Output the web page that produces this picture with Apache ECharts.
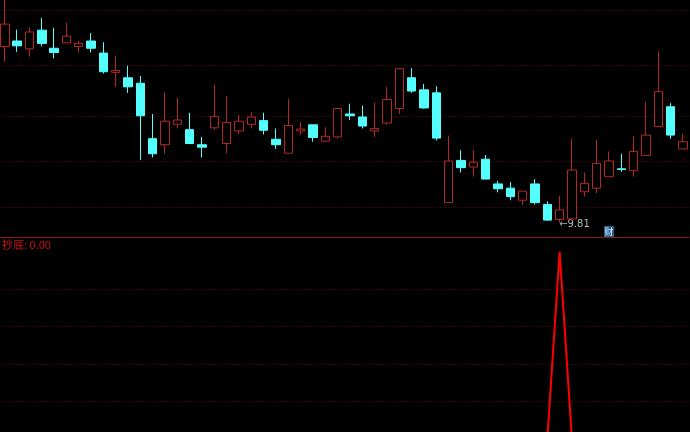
<!DOCTYPE html>
<html><head><meta charset="utf-8">
<script src="https://cdn.jsdelivr.net/npm/echarts@6/dist/echarts.min.js"></script>
<style>html,body{margin:0;padding:0;background:#000;overflow:hidden}#c{width:690px;height:432px}</style>
</head><body><div id="c"></div>
<script>
// ---- data ----
const categories = Array.from({length:56},(_,i)=>'K'+(i+1));
const opens  = [12.73,12.82,12.69,13.00,12.70,12.79,12.73,12.82,12.62,12.30, 12.21,12.12,11.20,11.10,11.44,11.35,11.10,11.38,11.12,11.33, 11.44,11.50,11.19,10.96,11.33,11.43,11.16,11.23,11.61,11.56, 11.33,11.46,11.70,12.21,12.01,11.96,10.14,10.84,10.73,10.86, 10.45,10.38,10.18,10.45,10.11,9.86,9.87,10.32,10.38,10.57, 10.70,10.67,10.92,11.40,11.73,11.03];
const closes = [13.10,12.74,12.97,12.78,12.63,12.90,12.78,12.70,12.31,12.33, 12.06,11.58,10.95,11.49,11.51,11.12,11.06,11.57,11.47,11.49, 11.56,11.34,11.10,11.42,11.36,11.22,11.24,11.70,11.58,11.41, 11.37,11.85,12.36,11.99,11.71,11.21,10.83,10.72,10.81,10.53, 10.37,10.24,10.33,10.14,9.85,10.02,10.68,10.46,10.79,10.83, 10.69,10.99,11.26,11.98,11.26,11.15];
const lows   = [12.48,12.64,12.56,12.73,12.53,12.79,12.63,12.63,12.28,12.06, 11.96,10.85,10.89,10.95,11.37,11.11,10.89,11.35,10.96,11.27, 11.37,11.27,11.03,10.96,11.26,11.15,11.16,11.20,11.51,11.37, 11.23,11.43,11.61,11.96,11.70,11.17,10.14,10.64,10.57,10.53, 10.31,10.18,10.10,10.11,9.84,9.81,9.85,10.24,10.30,10.57, 10.65,10.57,10.92,11.40,11.20,11.03];
const highs  = [13.50,13.01,13.05,13.20,13.04,13.12,12.82,12.95,12.80,12.58, 12.41,12.24,11.61,11.97,11.88,11.63,11.23,12.09,11.91,11.59, 11.64,11.63,11.37,11.86,11.48,11.43,11.39,11.70,11.78,11.75, 11.80,12.06,12.36,12.37,12.11,12.07,11.25,11.01,11.01,10.93, 10.50,10.48,10.33,10.53,10.16,10.25,11.20,10.64,11.18,10.99, 10.95,11.24,11.81,12.65,11.79,11.28];
const signal = [0,0,0,0,0,0,0,0,0,0, 0,0,0,0,0,0,0,0,0,0, 0,0,0,0,0,0,0,0,0,0, 0,0,0,0,0,0,0,0,0,0, 0,0,0,0,0,1,0,0,0,0, 0,0,0,0,0,0];
const priceGrid = [13.33,12.42,11.57,10.83,10.06];
const signalGrid = [0.2,0.4,0.6,0.8];
const newsIndex = 49;
const signalName = '抄底';

// ---- chart ----
const chart = echarts.init(document.getElementById('c'), null, {renderer:'canvas'});
const candleData = opens.map((o,i)=>[o, closes[i], lows[i], highs[i]]);
const UP = '#b42828', DOWN = '#54ffff', GRIDC = '#5e1212';
const hiddenAxis = {axisLine:{show:false},axisTick:{show:false},axisLabel:{show:false},splitLine:{show:false}};
const gridLineMark = vals => ({silent:true, symbol:'none', label:{show:false},
  lineStyle:{type:[1,2], color:GRIDC, width:1}, data: vals.map(v=>({yAxis:v}))});
const option = {
  backgroundColor:'#000',
  animation:false,
  grid:[
    {left:-1.4, width:690.5, top:0, height:237, outerBoundsMode:'none'},
    {left:-1.4, width:690.5, top:238, height:194, outerBoundsMode:'none'}
  ],
  xAxis:[
    {type:'category', data:categories, gridIndex:0, boundaryGap:true,
     axisLine:{show:true, onZero:false, lineStyle:{color:'#8b1a1a', width:1}},
     axisTick:{show:false}, axisLabel:{show:false}, splitLine:{show:false}, z:1},
    Object.assign({type:'category', data:categories, gridIndex:1, boundaryGap:true}, hiddenAxis)
  ],
  yAxis:[
    Object.assign({type:'value', gridIndex:0, min:9.57, max:13.5}, hiddenAxis),
    Object.assign({type:'value', gridIndex:1, min:0.0384, max:1.0731}, hiddenAxis)
  ],
  series:[
    {type:'line', xAxisIndex:0, yAxisIndex:0, data:[], z:1, silent:true,
     markLine: gridLineMark(priceGrid)},
    {type:'line', xAxisIndex:1, yAxisIndex:1, data:[], z:1, silent:true,
     markLine: gridLineMark(signalGrid)},
    {type:'candlestick', xAxisIndex:0, yAxisIndex:0, data:candleData, barWidth:9, z:5,
     itemStyle:{color:'#000', color0:DOWN, borderColor:UP, borderColor0:DOWN, borderWidth:1},
     markPoint:{silent:true, data:[
       {type:'min', valueDim:'lowest', symbol:'rect', symbolSize:1,
        itemStyle:{color:'rgba(0,0,0,0)'},
        label:{show:true, position:'right', distance:0, offset:[-1,2],
          formatter:p=>'←'+Number(p.value).toFixed(2), color:'#b4b4b4',
          fontSize:10, fontFamily:'DejaVu Sans'}},
       {coord:[categories[newsIndex], 9.57], symbol:'rect', symbolSize:[10,11], symbolOffset:[0,-5.5],
        itemStyle:{color:'#24608e'},
        label:{show:true, position:'inside', formatter:'财', color:'#e0f0ff', fontSize:9,
          fontFamily:'Noto Sans CJK SC'}}
     ]}
    },
    {type:'line', xAxisIndex:1, yAxisIndex:1, data:signal, symbol:'none', z:5,
     lineStyle:{color:'#ff0000', width:2}, clip:true}
  ],
  graphic:[
    {type:'text', left:2, top:239,
     style:{text: signalName + ': ' + signal[signal.length-1].toFixed(2),
       fill:'#d01010', fontSize:11, fontFamily:'Noto Sans CJK SC'}}
  ]
};
chart.setOption(option);
</script>
</body></html>
